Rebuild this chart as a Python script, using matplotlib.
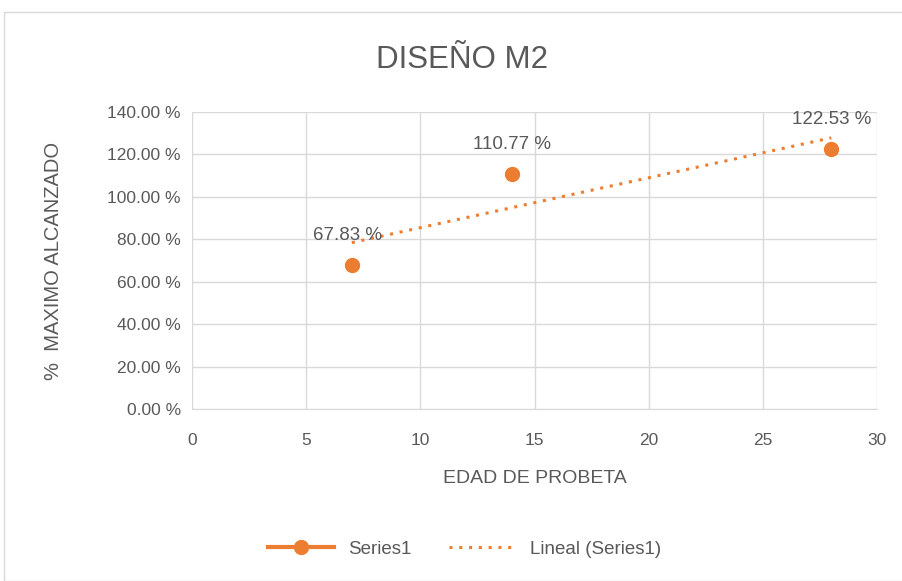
import matplotlib
matplotlib.use("Agg")
import matplotlib.pyplot as plt
import numpy as np
from matplotlib.patches import Rectangle
from matplotlib.lines import Line2D

plt.rcParams['font.family'] = ['Liberation Sans', 'DejaVu Sans']

edad = [7, 14, 28]
porcentaje = [67.83, 110.77, 122.53]
labels = ["67.83 %", "110.77 %", "122.53 %"]
yticks = [0, 20, 40, 60, 80, 100, 120, 140]
xticks = [0, 5, 10, 15, 20, 25, 30]

orange = '#ED7D31'
txt = '#595959'
grid = '#D9D9D9'

fig = plt.figure(figsize=(9.02, 5.81), dpi=100)
fig.patches.append(Rectangle((4/902, 0), 1.0, 1 - 12/581, transform=fig.transFigure,
                             fill=False, edgecolor=grid, linewidth=1.0))
ax = fig.add_axes([192/902, 1 - 409/581, (877 - 192)/902, (409 - 112)/581])

ax.plot(edad, porcentaje, 'o', color=orange, markersize=10, zorder=3)
coef = np.polyfit(edad, porcentaje, 1)
xs = np.array([edad[0], edad[-1]])
ax.plot(xs, np.polyval(coef, xs), linestyle=(0, (1, 2.2)), color=orange, linewidth=2.2, zorder=2)

for x, y, l in zip(edad, porcentaje, labels):
    ax.annotate(l, (x, y), xytext=(-3 if x == 7 else 0, 21), textcoords='offset points',
                ha='center', va='center', fontsize=13.5, color=txt)

ax.set_xlim(0, 30)
ax.set_ylim(0, 140)
ax.set_xticks(xticks)
ax.set_yticks(yticks)
ax.set_yticklabels([f"{v:.2f} %" for v in yticks])
ax.grid(True, color=grid, linewidth=1.0)
ax.set_axisbelow(True)
for s in ['top', 'right', 'left']:
    ax.spines[s].set_visible(False)
ax.spines['bottom'].set_color(grid)
ax.tick_params(length=0, labelsize=12.5, labelcolor=txt)
ax.tick_params(axis='y', pad=8)
ax.tick_params(axis='x', pad=17)
ax.set_xlabel("EDAD DE PROBETA", fontsize=14, color=txt, labelpad=16)
ax.set_ylabel("%  MAXIMO ALCANZADO", fontsize=14.5, color=txt, labelpad=32)

fig.text(462/902, 1 - 60/581, "DISEÑO M2", ha='center', va='center', fontsize=22.5, color=txt)

handles = [Line2D([0], [0], color=orange, linewidth=3, marker='o', markersize=10),
           Line2D([0], [0], color=orange, linewidth=2.2, linestyle=(0, (1, 2.2)))]
fig.legend(handles, ["Series1", "Lineal (Series1)"], loc='center',
           bbox_to_anchor=(0.515, 1 - 549/581), ncol=2, frameon=False,
           fontsize=13.5, labelcolor=txt, handlelength=3.5, columnspacing=2.0)

fig.savefig("out.png", dpi=100)
